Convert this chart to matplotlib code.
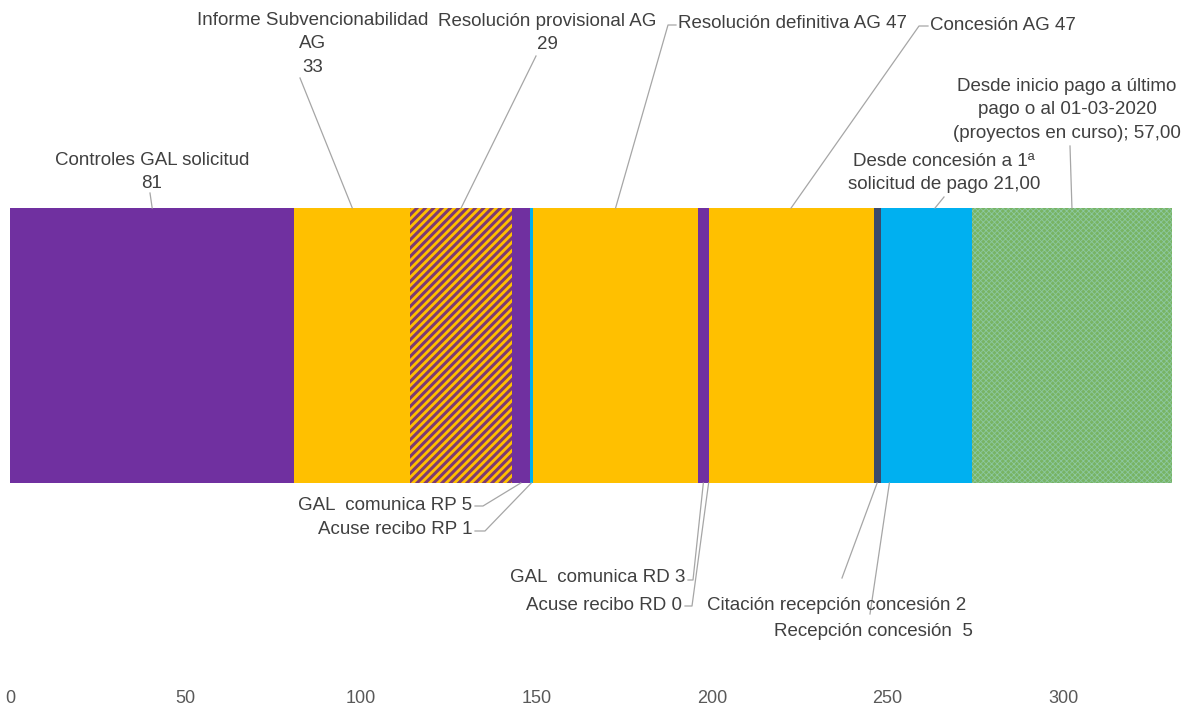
import matplotlib
matplotlib.use("Agg")
import matplotlib.pyplot as plt
import numpy as np

plt.rcParams['font.family'] = ['Liberation Sans', 'DejaVu Sans']

# ---- data ----
stages = ["Controles GAL solicitud", "Informe Subvencionabilidad AG",
          "Resolución provisional AG", "GAL comunica RP", "Acuse recibo RP",
          "Resolución definitiva AG", "GAL comunica RD", "Acuse recibo RD",
          "Concesión AG", "Citación recepción concesión", "Recepción concesión",
          "Desde concesión a 1ª solicitud de pago",
          "Desde inicio pago a último pago o al 01-03-2020 (proyectos en curso)"]
days = [81, 33, 29, 5, 1, 47, 3, 0, 47, 2, 5, 21, 57]
labels = ["Controles GAL solicitud\n81",
          "Informe Subvencionabilidad\nAG\n33",
          "Resolución provisional AG\n29",
          "GAL  comunica RP 5",
          "Acuse recibo RP 1",
          "Resolución definitiva AG 47",
          "GAL  comunica RD 3",
          "Acuse recibo RD 0",
          "Concesión AG 47",
          "Citación recepción concesión 2",
          "Recepción concesión  5",
          "Desde concesión a 1ª\nsolicitud de pago 21,00",
          "Desde inicio pago a último\npago o al 01-03-2020\n(proyectos en curso); 57,00"]
xticks = [0, 50, 100, 150, 200, 250, 300]

# ---- styles ----
PURPLE = "#7030A0"
YELLOW = "#FFC000"
BLUE = "#00B0F0"
NAVY = "#3B4A6B"
GREEN = "#78B464"
colors = [PURPLE, YELLOW, YELLOW, PURPLE, BLUE, YELLOW, PURPLE, BLUE,
          YELLOW, NAVY, BLUE, BLUE, GREEN]
hatches = [None, None, "////", None, None, None, None, None, None, None, None, None, "xxxxxx"]
hatch_colors = [None, None, "#7E3A72", None, None, None, None, None, None, None, None, None, "#8CC8A0"]
hatch_lws = [None, None, 2.2, None, None, None, None, None, None, None, None, None, 0.6]

TXT = "#404040"
LINE = "#A6A6A6"
FS = 13.5

W, H = 1194, 720
fig = plt.figure(figsize=(W / 100, H / 100), dpi=100)
bar_left_px, bar_right_px = 10, 1172
bar_top_px, bar_bot_px = 208, 483
ax = fig.add_axes([bar_left_px / W, (H - bar_bot_px) / H,
                   (bar_right_px - bar_left_px) / W, (bar_bot_px - bar_top_px) / H])
total = sum(days)
ax.set_xlim(0, total)
ax.set_ylim(0, 1)

lefts = np.concatenate([[0], np.cumsum(days)[:-1]])
for v, l, c, h, hc, hlw in zip(days, lefts, colors, hatches, hatch_colors, hatch_lws):
    bars = ax.barh(0.5, v, left=l, height=1.0, color=c, linewidth=0)
    if h:
        p = bars[0]
        p.set_hatch(h)
        p.set_edgecolor(hc)
        p.set_linewidth(0)
        try:
            p.set_hatch_linewidth(hlw)
        except Exception:
            pass

for s in ax.spines.values():
    s.set_visible(False)
ax.set_yticks([])
ax.set_xticks(xticks)
ax.set_xticklabels([str(t) for t in xticks])
ax.tick_params(axis='x', length=0, pad=149, labelsize=13, labelcolor="#595959")

centers = lefts + np.array(days) / 2.0


def fy(y):
    return H - y


def leader(idx, pts_px, at_top, xdata=None):
    """pts_px: list of image pixel points from text side; ends at bar edge."""
    xd = centers[idx] if xdata is None else xdata
    yd = 1.0 if at_top else 0.0
    disp_end = ax.transData.transform((xd, yd))
    xs = [p[0] for p in pts_px] + [disp_end[0]]
    ys = [fy(p[1]) for p in pts_px] + [disp_end[1]]
    fig.add_artist(plt.Line2D(xs, ys, transform=None, color=LINE, lw=0.9))


def label(idx, x, y, ha, va="center"):
    fig.text(x / W, fy(y) / H, labels[idx], ha=ha, va=va, fontsize=FS,
             color=TXT, linespacing=1.5, multialignment="center" if ha == "center" else ha)


# top labels
label(0, 152, 172, "center")
leader(0, [(150, 193)], True)
label(1, 313, 44, "center")
leader(1, [(300, 78)], True)
label(2, 547, 33, "center")
leader(2, [(536, 56)], True)
label(5, 678, 23, "left")
leader(5, [(676, 25), (668, 25)], True)
label(8, 930, 26, "left")
leader(8, [(928, 26), (919, 26)], True)
label(12, 1067, 110, "center")
leader(12, [(1070, 146)], True)
label(11, 944, 173, "center")
leader(11, [(944, 197)], True)

# bottom labels
label(3, 472, 505, "right")
leader(3, [(475, 506), (483, 506)], False)
label(4, 472, 530, "right")
leader(4, [(475, 531), (485, 531)], False)
label(6, 685, 578, "right")
leader(6, [(688, 580), (693, 580)], False)
label(7, 682, 605, "right")
leader(7, [(685, 606), (692, 606)], False, xdata=lefts[7])
label(9, 707, 606, "left")
leader(9, [(842, 578)], False)
label(10, 973, 631, "right")
leader(10, [(870, 614)], False)

fig.savefig("out.png", dpi=100, facecolor="white")
